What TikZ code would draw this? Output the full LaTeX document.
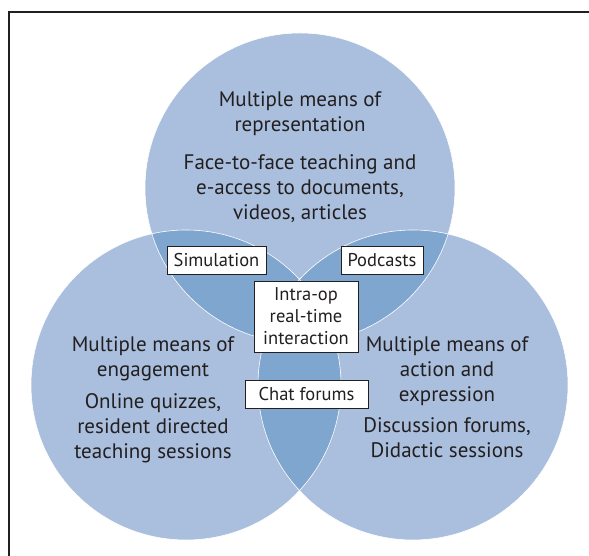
\documentclass[tikz,border=0pt]{standalone}
\usepackage{fontspec}
\setmainfont{PT Sans}
\usetikzlibrary{positioning}

\definecolor{ringblue}{RGB}{169,191,221}
\definecolor{overlapblue}{RGB}{127,166,206}
\definecolor{inkgray}{RGB}{35,31,32}

\begin{document}
\begin{tikzpicture}[x=1pt,y=1pt,
  circtext/.style={align=center,text=inkgray,font=\fontsize{21}{25}\selectfont},
  tagbox/.style={draw=inkgray,line width=0.8pt,fill=white,align=center,text=inkgray,
    font=\fontsize{18.5}{22}\selectfont,inner xsep=4pt,inner ysep=3pt,minimum height=28pt}]

  \useasboundingbox (0,0) rectangle (589,556);
  % frame (runs off the page on the right and at the bottom)
  \draw[inkgray,line width=1.4pt] (9,0) -- (9,544) -- (589,544);

  % circle centres
  \coordinate (top) at (300,368);
  \coordinate (lft) at (186,171);
  \coordinate (rgt) at (413,171);

  \fill[ringblue] (top) circle (155pt) (lft) circle (155pt) (rgt) circle (155pt);
  % overlaps in the darker blue
  \begin{scope}
    \clip (top) circle (155pt);
    \fill[overlapblue] (lft) circle (155pt) (rgt) circle (155pt);
  \end{scope}
  \begin{scope}
    \clip (lft) circle (155pt);
    \fill[overlapblue] (rgt) circle (155pt);
  \end{scope}
  \draw[white,line width=0.6pt] (top) circle (155pt) (lft) circle (155pt) (rgt) circle (155pt);

  % circle texts
  \node[circtext] (repTitle) at (300,442) {Multiple means of\\representation};
  \node[circtext] (repText) at (300,367.5) {Face-to-face teaching and\\e-access to documents,\\videos, articles};
  \node[circtext] (engTitle) at (153,197) {Multiple means of\\engagement};
  \node[circtext] (engText) at (153,128) {Online quizzes,\\resident directed\\teaching sessions};
  \node[circtext] (actTitle) at (447,184.5) {Multiple means of\\action and\\expression};
  \node[circtext] (actText) at (447,118) {Discussion forums,\\Didactic sessions};

  % tools in the overlaps
  \node[tagbox,minimum width=99pt] (sim) at (216.5,296) {Simulation};
  \node[tagbox,minimum width=82pt] (pod) at (382,296) {Podcasts};
  \node[tagbox,minimum width=104pt,minimum height=71pt] (intra) at (306,239.5) {Intra-op\\real-time\\interaction};
  \node[tagbox,minimum width=123pt] (chat) at (306.5,162) {Chat forums};
\end{tikzpicture}
\end{document}
